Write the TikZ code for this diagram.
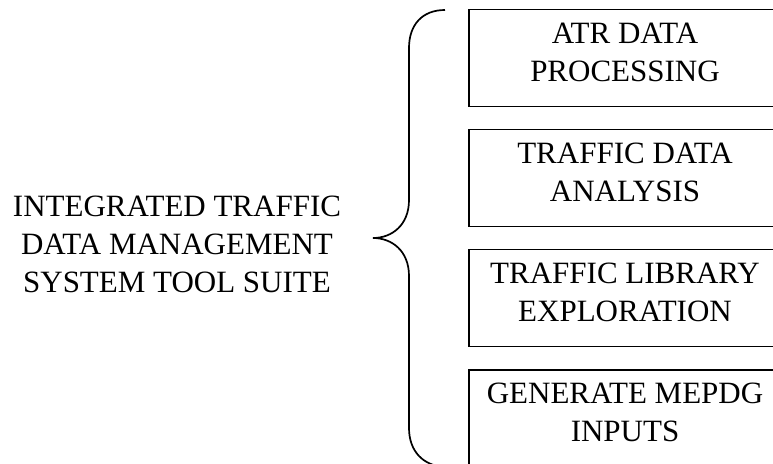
\documentclass[tikz,border=0pt]{standalone}
\usepackage{fontspec}
\setmainfont{Liberation Serif}
\begin{document}
\begin{tikzpicture}[x=1pt,y=-1pt,
  txt/.style={font=\fontsize{31pt}{38pt}\selectfont, align=center, inner sep=0pt},
  toolbox/.style={txt, draw, line width=1.3pt, minimum width=312pt, minimum height=97pt, text depth=11.6pt}]
\useasboundingbox (0,0) rectangle (773,463);
\clip (0,0) rectangle (773,463);
\node[txt] (suite) at (177,244.5) {INTEGRATED TRAFFIC\\DATA MANAGEMENT\\SYSTEM TOOL SUITE};
\node[toolbox] (atr) at (625,57.7) {ATR DATA\\PROCESSING};
\node[toolbox] (tda) at (625,178.3) {TRAFFIC DATA\\ANALYSIS};
\node[toolbox] (tle) at (625,297.7) {TRAFFIC LIBRARY\\EXPLORATION};
\node[toolbox] (gmi) at (625,418.5) {GENERATE MEPDG\\INPUTS};
\coordinate (btop) at (445,10);
\coordinate (btip) at (373,238);
\coordinate (bbot) at (445,467);
\draw[line width=1.7pt]
  (btop) .. controls (422,10) and (409,25) .. (409,48)
  -- (409,200) .. controls (409,225) and (392,238) .. (btip)
  .. controls (392,238) and (409,251) .. (409,276)
  -- (409,428) .. controls (409,452) and (424,466) .. (bbot);
\end{tikzpicture}
\end{document}
